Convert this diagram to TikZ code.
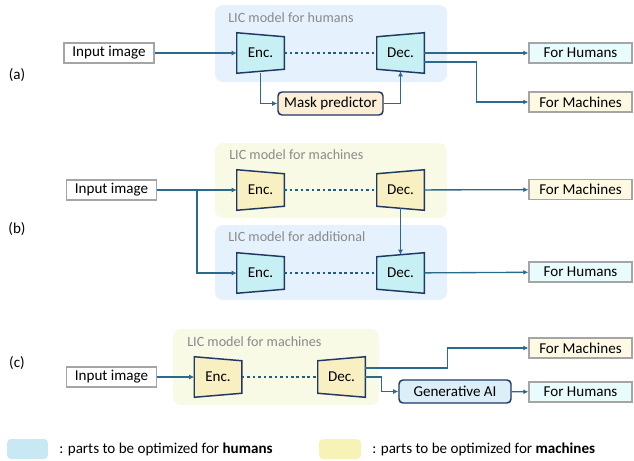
\documentclass[tikz,border=0pt]{standalone}
\usepackage{fontspec}
\setmainfont{Carlito}
\usetikzlibrary{arrows.meta,calc}
\pgfdeclarelayer{panel}\pgfdeclarelayer{shape}
\pgfsetlayers{panel,shape,main}
\definecolor{panelblue}{HTML}{E5F1FC}
\definecolor{panelyellow}{HTML}{F8FAE6}
\definecolor{encblue}{HTML}{C7F0F4}
\definecolor{encyellow}{HTML}{F8F0C2}
\definecolor{navy}{HTML}{1F3864}
\definecolor{arrowc}{HTML}{2A6A8E}
\definecolor{dotc}{HTML}{1C5E86}
\definecolor{boxgray}{HTML}{A5A5A5}
\definecolor{humansfill}{HTML}{E8FBFD}
\definecolor{machfill}{HTML}{FDF9E2}
\definecolor{maskfill}{HTML}{FCEFD6}
\definecolor{genfill}{HTML}{DCEEF7}
\definecolor{legblue}{HTML}{C8E9F3}
\definecolor{legyellow}{HTML}{F7F3B6}
\definecolor{titlegray}{HTML}{8A8A8A}
\newcommand\pxu{0.75pt}
\tikzset{
  txt/.style={font=\fontsize{11.3}{13}\selectfont, text=black, inner sep=0},
  title/.style={font=\fontsize{10.6}{12}\selectfont, text=titlegray, inner sep=0, anchor=west},
  inbox/.style={txt, draw=boxgray, fill=white, line width=1pt, minimum width=90*\pxu, minimum height=20*\pxu},
  outh/.style={txt, draw=boxgray, fill=humansfill, line width=1pt, minimum width=103*\pxu, minimum height=20*\pxu},
  outm/.style={txt, draw=boxgray, fill=machfill, line width=1pt, minimum width=103*\pxu, minimum height=20*\pxu},
  rbox/.style={txt, draw=navy, line width=1.1pt, rounded corners=3pt, minimum height=23*\pxu},
  trapn/.style={txt, minimum width=47*\pxu, minimum height=40*\pxu},
  blueshape/.style={fill=encblue, draw=navy, line width=1.1pt, line join=miter},
  yellowshape/.style={fill=encyellow, draw=navy, line width=1.1pt, line join=miter},
  pblue/.style={fill=panelblue, rounded corners=6pt},
  pyellow/.style={fill=panelyellow, rounded corners=6pt},
  arr/.style={draw=arrowc, line width=1pt, -{Latex[length=3.8pt,width=3.8pt]}},
  dots/.style={draw=dotc, line width=2.1pt, dash pattern=on 2pt off 2.1pt},
  lbl/.style={txt},
}
\newcommand\mkenc[4]{%
  \node[trapn] (#1) at (#2,#3) {Enc.};
  \begin{pgfonlayer}{shape}
  \filldraw[#4] (#1.north west) -- ($(#1.north east)+(0,4)$) -- ($(#1.south east)+(0,-4)$) -- (#1.south west) -- cycle;
  \end{pgfonlayer}}
\newcommand\mkdec[4]{%
  \node[trapn] (#1) at (#2,#3) {Dec.};
  \begin{pgfonlayer}{shape}
  \filldraw[#4] ($(#1.north west)+(0,4)$) -- (#1.north east) -- (#1.south east) -- ($(#1.south west)+(0,-4)$) -- cycle;
  \end{pgfonlayer}}
\begin{document}
\begin{tikzpicture}[x=0.75pt, y={(0pt,-0.75pt)}]
\useasboundingbox (0,0) rectangle (634,460);

% panels
\begin{pgfonlayer}{panel}
\path[fill=white] (0,0) rectangle (634,460);
\path[pblue] (215,5) rectangle (447,82);
\path[pyellow] (215,143) rectangle (447,218);
\path[pblue] (215,225) rectangle (447,300);
\path[pyellow] (173,329) rectangle (379,405);
\end{pgfonlayer}
\node[title] (ta) at (228,18) {LIC model for humans};
\node[title] (tb1) at (229,155) {LIC model for machines};
\node[title] (tb2) at (228,237) {LIC model for additional};
\node[title] (tc) at (187,342) {LIC model for machines};

% labels
\node[lbl] (la) at (17,75) {(a)};
\node[lbl] (lb) at (17,229) {(b)};
\node[lbl] (lc) at (17,363) {(c)};

% (a)
\node[inbox] (in1) at (109,53) {Input image};
\mkenc{e1}{260.5}{53}{blueshape}
\mkdec{d1}{400.5}{53}{blueshape}
\node[rbox, fill=maskfill, minimum width=105*\pxu] (mask) at (330.5,103.5) {Mask predictor};
\node[outh] (fh1) at (580.5,53) {For Humans};
\node[outm] (fm1) at (580.5,102) {For Machines};
\draw[arr] (in1) -- (e1);
\draw[dots] (e1.east) -- (d1.west);
\draw[arr] (e1.south) |- (mask.west);
\draw[arr] (mask.east) -| ($(d1.south)+(0,-2)$);
\draw[arr] (d1) -- (fh1);
\draw[arr] ($(d1.east)+(0,9)$) -- ++(52,0) |- (fm1.west);

% (b)
\node[inbox] (in2) at (111.5,190) {Input image};
\mkenc{e2}{260.5}{190}{yellowshape}
\mkdec{d2}{400.5}{190}{yellowshape}
\mkenc{e3}{260.5}{273}{blueshape}
\mkdec{d3}{400.5}{273}{blueshape}
\node[outm] (fm2) at (580.5,189.5) {For Machines};
\node[outh] (fh2) at (580.5,272) {For Humans};
\coordinate (sp) at (197,190);
\draw[arr] (in2) -- (e2);
\draw[arr] (sp) |- (e3.west);
\draw[dots] (e2.east) -- (d2.west);
\draw[dots] (e3.east) -- (d3.west);
\draw[arr] ($(d2.south)+(0,-2)$) -- ($(d3.north)+(0,2)$);
\draw[arr] (d2) -- (fm2);
\draw[arr] (d3) -- (fh2);

% (c)
\node[inbox] (in3) at (111.5,377) {Input image};
\mkenc{e4}{218}{377}{yellowshape}
\mkdec{d4}{341.5}{377}{yellowshape}
\node[rbox, fill=genfill, minimum width=112*\pxu] (gen) at (455,391.5) {Generative AI};
\node[outm] (fm3) at (580.5,348) {For Machines};
\node[outh] (fh3) at (580.5,392) {For Humans};
\draw[arr] (in3) -- (e4);
\draw[dots] (e4.east) -- (d4.west);
\draw[arr] ($(d4.east)+(0,-9)$) -- ++(82,0) |- (fm3.west);
\draw[arr] (d4.east) -- ++(16,0) |- (gen.west);
\draw[arr] (gen) -- (fh3);

% legend
\path[fill=legblue, rounded corners=3pt] (7,439) rectangle (48,459);
\node[txt, anchor=west] (lgb) at (59,449) {: parts to be optimized for \textbf{humans}};
\path[fill=legyellow, rounded corners=3pt] (319,439) rectangle (361,459);
\node[txt, anchor=west] (lgy) at (372,449) {: parts to be optimized for \textbf{machines}};
\end{tikzpicture}
\end{document}
